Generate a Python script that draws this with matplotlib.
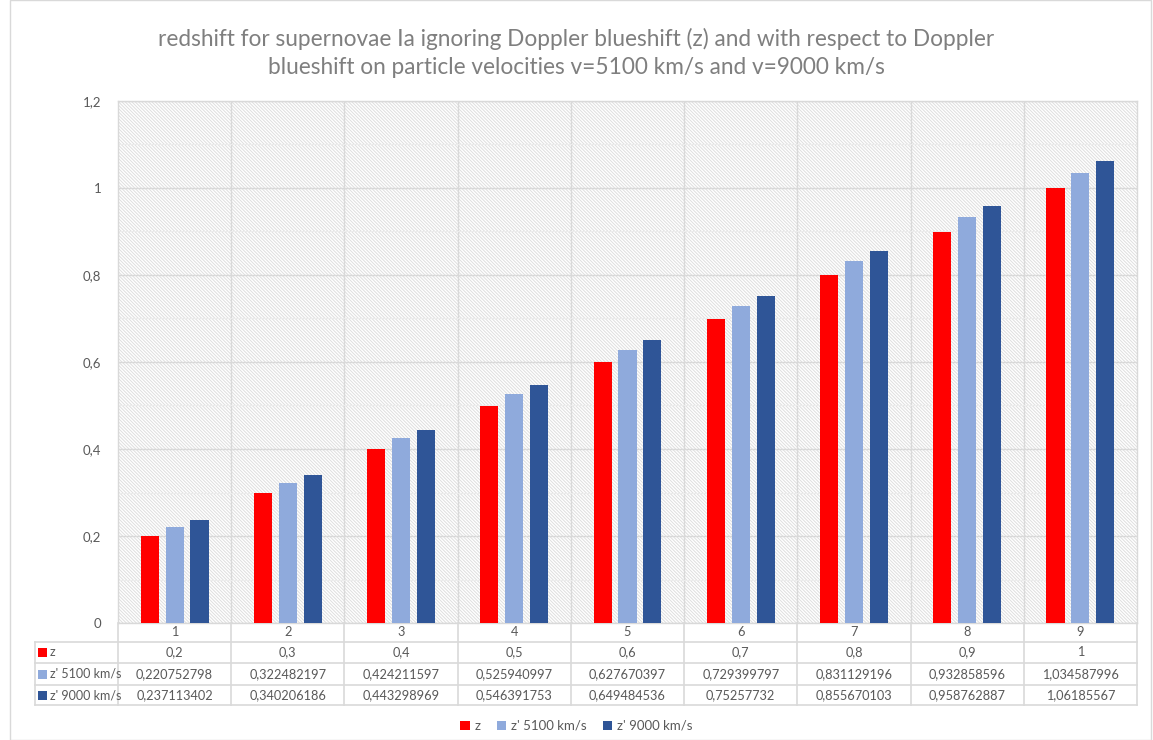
import numpy as np
import matplotlib.pyplot as plt
import matplotlib.transforms as mtransforms
from matplotlib.patches import Rectangle

plt.rcParams['font.family'] = ['Lato', 'DejaVu Sans']
plt.rcParams['hatch.linewidth'] = 0.7

categories = ['1', '2', '3', '4', '5', '6', '7', '8', '9']
z = [0.2, 0.3, 0.4, 0.5, 0.6, 0.7, 0.8, 0.9, 1.0]
z5100 = [0.220752798, 0.322482197, 0.424211597, 0.525940997, 0.627670397,
         0.729399797, 0.831129196, 0.932858596, 1.034587996]
z9000 = [0.237113402, 0.340206186, 0.443298969, 0.546391753, 0.649484536,
         0.75257732, 0.855670103, 0.958762887, 1.06185567]
z_txt = ['0,2', '0,3', '0,4', '0,5', '0,6', '0,7', '0,8', '0,9', '1']
z5100_txt = ['0,220752798', '0,322482197', '0,424211597', '0,525940997', '0,627670397',
             '0,729399797', '0,831129196', '0,932858596', '1,034587996']
z9000_txt = ['0,237113402', '0,340206186', '0,443298969', '0,546391753', '0,649484536',
             '0,75257732', '0,855670103', '0,958762887', '1,06185567']
series = [('z', z, z_txt, '#ff0000'),
          ("z' 5100 km/s", z5100, z5100_txt, '#8faadc'),
          ("z' 9000 km/s", z9000, z9000_txt, '#2f5597')]
yticks = [0, 0.2, 0.4, 0.6, 0.8, 1.0, 1.2]
ytick_labels = ['0', '0,2', '0,4', '0,6', '0,8', '1', '1,2']

W, H = 1153, 740
fig = plt.figure(figsize=(W / 100, H / 100), dpi=100)
ax = fig.add_axes([118 / W, 1 - 623 / H, (1137 - 118) / W, (623 - 101) / H])

grid_c = '#d9d9d9'
txt_c = '#595959'

# hatched background
ax.set_facecolor('white')
ax.add_patch(Rectangle((0, 0), 1, 1, transform=ax.transAxes, facecolor='none',
                       edgecolor='#dedede', hatch='\\' * 10, linewidth=0, zorder=0))

x = np.arange(len(categories))
off = 0.22
w = 0.16
for k, (name, vals, _, col) in enumerate(series):
    ax.bar(x + (k - 1) * off, vals, width=w, color=col, label=name, zorder=3)

ax.set_xlim(-0.5, len(categories) - 0.5)
ax.set_ylim(0, 1.2)
ax.set_yticks(yticks)
ax.set_yticklabels(ytick_labels)
ax.set_yticks(np.arange(0.1, 1.2, 0.2), minor=True)
ax.tick_params(axis='y', which='both', length=0, labelsize=9.5, labelcolor=txt_c, pad=12)
ax.set_xticks([])
ax.grid(axis='y', which='major', color=grid_c, linewidth=1, zorder=1)
ax.grid(axis='y', which='minor', color='#ececec', linewidth=0.8, zorder=1)
for b in np.arange(0.5, len(categories) - 0.5, 1):
    ax.axvline(b, color=grid_c, linewidth=1, zorder=1)
for s in ax.spines.values():
    s.set_color(grid_c)
    s.set_linewidth(1)

# data table under the axes
trans = mtransforms.blended_transform_factory(ax.transData, fig.transFigure)
fy = lambda py: 1 - py / H
rows_y = [623, 642, 663, 685, 705]
left_px = 35
for py in rows_y[1:]:
    fig.add_artist(plt.Line2D([left_px / W, 1137 / W], [fy(py), fy(py)],
                              color=grid_c, linewidth=1.2, transform=fig.transFigure))
fig.add_artist(plt.Line2D([left_px / W, left_px / W], [fy(642), fy(705)],
                          color=grid_c, linewidth=1.2, transform=fig.transFigure))
for b in np.arange(-0.5, len(categories), 1):
    fig.add_artist(plt.Line2D([b, b], [fy(623), fy(705)], color=grid_c,
                              linewidth=1.2, transform=trans))
for i, c in enumerate(categories):
    fig.text(i, fy((623 + 642) / 2), c, transform=trans, ha='center', va='center',
             fontsize=9.2, color=txt_c)
for r, (name, vals, txts, col) in enumerate(series):
    yc = fy((rows_y[r + 1] + rows_y[r + 2]) / 2)
    fig.add_artist(Rectangle((38 / W, yc - 4.5 / H), 9 / W, 9 / H, facecolor=col,
                             edgecolor='none', transform=fig.transFigure))
    fig.text(50 / W, yc, name, ha='left', va='center', fontsize=9, color=txt_c)
    for i, t in enumerate(txts):
        fig.text(i, yc, t, transform=trans, ha='center', va='center',
                 fontsize=9.2, color=txt_c)

fig.text(0.5, fy(53), 'redshift for supernovae Ia ignoring Doppler blueshift (z) and with respect to Doppler\n'
         'blueshift on particle velocities v=5100 km/s and v=9000 km/s',
         ha='center', va='center', fontsize=16.3, color='#7f7f7f', linespacing=1.45)

fig.legend(loc='center', bbox_to_anchor=(0.5, fy(726)), ncol=3, frameon=False,
           fontsize=9.5, handlelength=0.7, handleheight=0.7, handletextpad=0.4,
           columnspacing=1.2, labelcolor=txt_c)

fig.add_artist(Rectangle((10 / W, 0), (W - 12) / W, 1, facecolor='none',
                         edgecolor='#d9d9d9', linewidth=1, transform=fig.transFigure))

fig.savefig('out.png', dpi=100)
